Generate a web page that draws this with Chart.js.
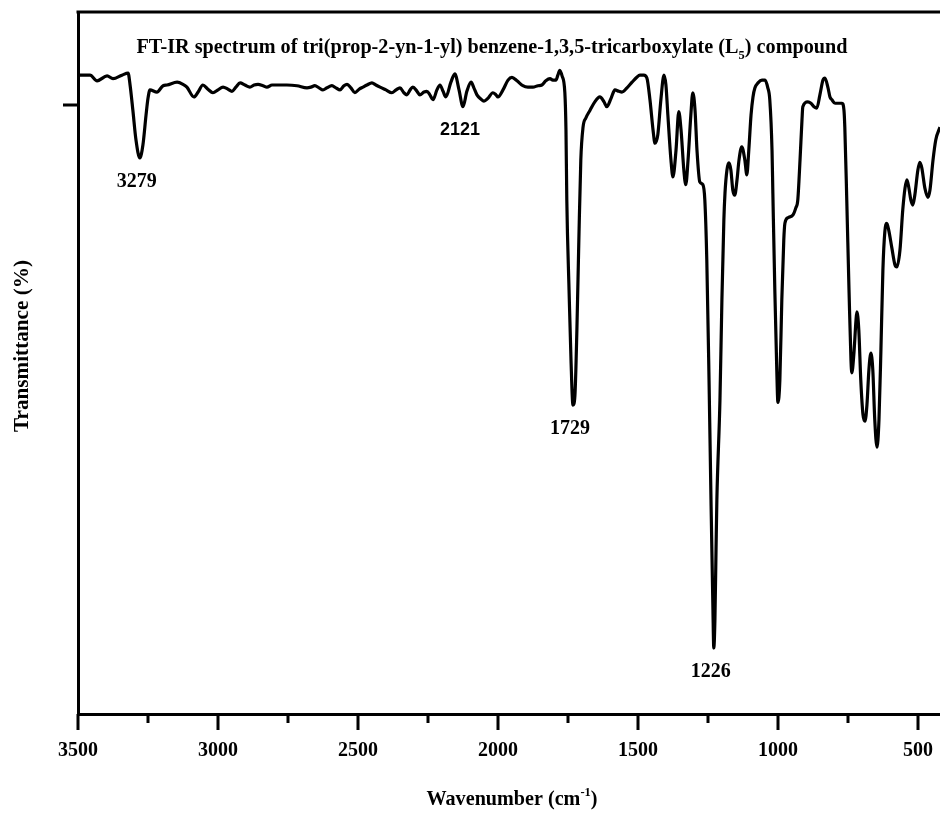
<!DOCTYPE html>
<html>
<head>
<meta charset="utf-8">
<script src="https://cdn.jsdelivr.net/npm/chart.js@4.4.0/dist/chart.umd.min.js"></script>
<style>
html, body { margin: 0; padding: 0; background: #fff; }
</style>
</head>
<body>
<canvas id="irChart" width="940" height="813"></canvas>
<script>
// spectrum: wavenumber (cm-1) and transmittance (%)
var wavenumbers = [
    3493, 3457, 3432, 3396, 3375, 3343, 3321, 3314, 3304, 3293, 3279, 3268, 3257, 3250, 3243,
    3218, 3196, 3182, 3146, 3125, 3111, 3086, 3071, 3054, 3036, 3018, 3000, 2982, 2964, 2950,
    2936, 2921, 2904, 2886, 2871, 2857, 2839, 2825, 2807, 2789, 2754, 2718, 2682, 2668, 2654,
    2639, 2625, 2611, 2593, 2579, 2564, 2550, 2539, 2525, 2511, 2496, 2482, 2468, 2450, 2436,
    2421, 2400, 2379, 2364, 2350, 2336, 2325, 2314, 2304, 2289, 2279, 2264, 2254, 2243, 2232,
    2218, 2207, 2196, 2186, 2168, 2154, 2139, 2125, 2111, 2096, 2086, 2075, 2061, 2050, 2036,
    2018, 2007, 2000, 1982, 1964, 1950, 1932, 1911, 1893, 1875, 1857, 1843, 1829, 1814, 1804,
    1793, 1786, 1779, 1771, 1761, 1757, 1754, 1746, 1739, 1732, 1725, 1718, 1711, 1704, 1696,
    1686, 1671, 1654, 1636, 1621, 1611, 1596, 1582, 1568, 1557, 1539, 1521, 1504, 1493, 1479,
    1468, 1457, 1446, 1439, 1429, 1418, 1407, 1400, 1393, 1382, 1375, 1364, 1354, 1346, 1336,
    1329, 1321, 1311, 1304, 1296, 1289, 1279, 1268, 1261, 1254, 1246, 1239, 1232, 1229, 1225,
    1221, 1218, 1207, 1200, 1193, 1189, 1182, 1175, 1168, 1161, 1154, 1146, 1139, 1129, 1118,
    1111, 1104, 1096, 1089, 1082, 1071, 1057, 1046, 1036, 1029, 1021, 1018, 1011, 1004, 1000,
    993, 986, 979, 975, 964, 946, 936, 929, 921, 914, 911, 893, 882, 871, 861,
    850, 839, 832, 821, 814, 807, 796, 786, 771, 764, 761, 754, 746, 739, 736,
    729, 721, 718, 711, 704, 696, 689, 682, 675, 668, 661, 654, 646, 639, 632,
    625, 618, 611, 604, 593, 582, 575, 564, 554, 546, 539, 532, 525, 518, 511,
    500, 493, 486, 475, 464, 457, 446, 436, 421
];
var transmittance = [
    91.0, 91.0, 90.2, 90.9, 90.5, 91.0, 91.3, 89.6, 86.0, 81.8, 79.2, 81.1, 85.3, 87.7, 88.9,
    88.6, 89.5, 89.6, 90.0, 89.7, 89.3, 87.9, 88.6, 89.6, 89.0, 88.5, 88.9, 89.3, 89.0, 88.7,
    89.3, 89.9, 89.6, 89.3, 89.6, 89.7, 89.5, 89.3, 89.6, 89.6, 89.6, 89.5, 89.2, 89.3, 89.5,
    89.2, 88.9, 89.2, 89.5, 89.2, 88.9, 89.5, 89.7, 89.2, 88.5, 89.0, 89.3, 89.6, 89.9, 89.6,
    89.3, 88.9, 88.5, 88.9, 89.2, 88.5, 88.2, 88.9, 89.3, 88.7, 88.2, 88.6, 88.7, 88.2, 87.5,
    88.9, 89.6, 88.7, 87.9, 90.0, 91.2, 88.9, 86.5, 88.7, 90.0, 89.2, 88.2, 87.6, 87.3, 87.7,
    88.5, 88.2, 87.9, 88.9, 90.3, 90.7, 90.2, 89.5, 89.3, 89.3, 89.5, 89.6, 90.2, 90.5, 90.3,
    90.3, 91.0, 91.7, 90.9, 88.5, 83.2, 73.2, 60.4, 50.4, 44.0, 45.4, 54.7, 67.5, 78.9, 83.6,
    84.9, 86.0, 87.2, 87.9, 87.2, 86.5, 87.7, 88.9, 88.7, 88.6, 89.2, 90.0, 90.7, 91.0, 91.0,
    90.6, 87.5, 83.2, 81.3, 82.5, 87.5, 91.0, 89.6, 85.3, 78.9, 76.5, 80.3, 85.8, 83.2, 77.5,
    75.4, 78.9, 85.3, 88.5, 86.0, 80.3, 75.8, 75.4, 73.2, 64.7, 47.6, 30.5, 14.8, 9.4, 13.4,
    23.4, 30.5, 44.7, 59.0, 70.4, 74.2, 77.5, 78.5, 77.5, 74.6, 73.9, 76.1, 78.9, 80.8, 78.9,
    76.8, 80.3, 85.3, 87.9, 89.2, 89.9, 90.3, 90.3, 89.2, 87.5, 80.3, 74.2, 60.4, 49.0, 44.4,
    47.6, 59.0, 67.5, 69.9, 70.7, 71.1, 72.1, 73.2, 78.9, 84.6, 86.5, 87.2, 87.0, 86.5, 86.3,
    88.2, 90.3, 90.6, 89.2, 87.9, 87.5, 87.0, 87.0, 87.0, 86.0, 83.6, 73.2, 60.4, 50.4, 48.6,
    51.1, 56.1, 57.3, 54.7, 47.6, 42.6, 41.7, 44.0, 49.0, 51.4, 49.0, 41.9, 38.0, 41.9, 51.9,
    63.2, 68.7, 69.9, 68.9, 66.4, 64.0, 63.7, 66.1, 71.8, 74.9, 76.1, 74.9, 73.2, 72.5, 73.9,
    77.5, 78.6, 77.8, 74.9, 73.6, 74.6, 78.9, 81.8, 83.6
];
var xTicks = [3500, 3000, 2500, 2000, 1500, 1000, 500];
var xMinorTicks = [3250, 2750, 2250, 1750, 1250, 750];
var yTicks = [86.75];
var peakLabels = ['3279', '2121', '1729', '1226'];

var serif = '"Liberation Serif", "Times New Roman", serif';
var sans = '"Liberation Sans", Arial, sans-serif';

// draws bold text made of parts (normal / sub / sup), centred on cx,
// squeezed sideways to the given width when one is given
function drawRich(c, parts, size, family, cx, baseline, width) {
    var total = 0;
    parts.forEach(function (p) {
        c.font = 'bold ' + (p.k ? size * 0.62 : size) + 'px ' + family;
        p.w = c.measureText(p.t).width;
        total += p.w;
    });
    var k = width ? width / total : 1;
    c.save();
    c.translate(cx, baseline);
    c.scale(k, 1);
    c.textAlign = 'left';
    c.textBaseline = 'alphabetic';
    c.fillStyle = '#000';
    var x = -total / 2;
    parts.forEach(function (p) {
        c.font = 'bold ' + (p.k ? size * 0.62 : size) + 'px ' + family;
        var dy = p.k === 'sub' ? size * 0.28 : (p.k === 'sup' ? -size * 0.42 : 0);
        c.fillText(p.t, x, dy);
        x += p.w;
    });
    c.restore();
}

var framePlugin = {
    id: 'frame',
    afterDraw: function (chart) {
        var c = chart.ctx;
        var area = chart.chartArea;
        var xs = chart.scales.x;
        var ys = chart.scales.y;
        c.save();
        c.strokeStyle = '#000';
        c.lineWidth = 3;
        c.lineCap = 'butt';
        // top frame line
        c.beginPath();
        c.moveTo(area.left - 1.5, area.top);
        c.lineTo(area.right, area.top);
        c.stroke();
        // x ticks, outward
        c.beginPath();
        xTicks.forEach(function (v) {
            var px = Math.round(xs.getPixelForValue(v));
            c.moveTo(px, area.bottom);
            c.lineTo(px, area.bottom + 16);
        });
        xMinorTicks.forEach(function (v) {
            var px = Math.round(xs.getPixelForValue(v));
            c.moveTo(px, area.bottom);
            c.lineTo(px, area.bottom + 9);
        });
        // y tick, outward
        yTicks.forEach(function (v) {
            var py = Math.round(ys.getPixelForValue(v));
            c.moveTo(area.left, py);
            c.lineTo(area.left - 15, py);
        });
        c.stroke();
        c.restore();

        // peak labels under each band minimum
        peakLabels.forEach(function (lab) {
            var w = parseFloat(lab);
            var best = -1;
            wavenumbers.forEach(function (wn, i) {
                if (Math.abs(wn - w) <= 10 && (best < 0 || transmittance[i] < transmittance[best])) best = i;
            });
            var px = xs.getPixelForValue(wavenumbers[best]) - 3;
            var py = ys.getPixelForValue(transmittance[best]);
            if (lab === '2121') {
                drawRich(c, [{ t: lab }], 18, sans, px, py + 28);
            } else {
                drawRich(c, [{ t: lab }], 20, serif, px, py + 29);
            }
        });

        // chart title
        drawRich(c, [
            { t: 'FT-IR spectrum of tri(prop-2-yn-1-yl) benzene-1,3,5-tricarboxylate (L' },
            { t: '5', k: 'sub' },
            { t: ') compound' }
        ], 21, serif, 492, 53, 711);

        // x axis title
        drawRich(c, [
            { t: 'Wavenumber (cm' },
            { t: '-1', k: 'sup' },
            { t: ')' }
        ], 21, serif, 512, 805, 171);

        // y axis title
        c.save();
        c.translate(28, 346);
        c.rotate(-Math.PI / 2);
        drawRich(c, [{ t: 'Transmittance (%)' }], 20, serif, 0, 0, 172);
        c.restore();
    }
};

var irCtx = document.getElementById('irChart').getContext('2d');
var points = wavenumbers.map(function (w, i) { return { x: w, y: transmittance[i] }; });

var irChart = new Chart(irCtx, {
    type: 'line',
    data: {
        datasets: [{
            data: points,
            borderColor: '#000',
            borderWidth: 3.2,
            pointRadius: 0,
            fill: false,
            cubicInterpolationMode: 'monotone'
        }]
    },
    options: {
        responsive: false,
        animation: false,
        layout: { padding: { top: 12, right: 0, bottom: 0, left: 0 } },
        plugins: {
            legend: { display: false },
            tooltip: { enabled: false }
        },
        scales: {
            x: {
                type: 'linear',
                reverse: true,
                min: 421,
                max: 3500,
                afterBuildTicks: function (s) {
                    s.ticks = xTicks.map(function (v) { return { value: v }; });
                },
                afterFit: function (s) {
                    s.height = 99;
                    s.paddingLeft = 0;
                    s.paddingRight = 0;
                },
                grid: { display: false, drawTicks: false },
                border: { display: true, color: '#000', width: 3 },
                ticks: {
                    color: '#000',
                    padding: 25,
                    maxRotation: 0,
                    autoSkip: false,
                    font: { family: serif, size: 20, weight: 'bold' },
                    callback: function (v) { return String(v); }
                }
            },
            y: {
                min: 0,
                max: 100,
                afterFit: function (s) { s.width = 78; },
                grid: { display: false, drawTicks: false },
                border: { display: true, color: '#000', width: 3 },
                ticks: { display: false }
            }
        }
    },
    plugins: [framePlugin]
});
</script>
</body>
</html>
